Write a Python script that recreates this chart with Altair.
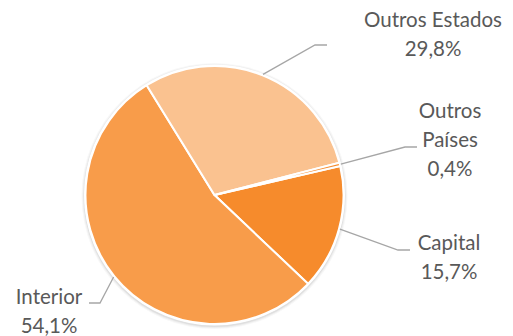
import math
import altair as alt
import pandas as pd

# ---- data ----
categories = ["Capital", "Interior", "Outros Estados", "Outros Países"]
values = [15.7, 54.1, 29.8, 0.4]
label_names = ["Capital", "Interior", "Outros Estados", "Outros\nPaíses"]
colors = ["#F68B2C", "#F89C4A", "#FAC290", "#F68B2C"]

# ---- layout ----
W, H = 497, 328
CX, CY, R = 206.5, 187, 129
START_DEG = 77
label_xy = {"Capital": (441, 242), "Interior": (41, 296),
            "Outros Estados": (425, 19), "Outros Países": (442, 110)}
leader_xy = {"Capital": [(390, 242), (402, 242)],
             "Interior": [(92, 295), (81, 295)],
             "Outros Estados": [(307, 37), (319, 37)],
             "Outros Países": [(397, 139), (409, 139)]}

START = math.radians(START_DEG)
df = pd.DataFrame({"cat": categories, "value": values, "idx": list(range(len(categories)))})

# labels
lab_rows = []
for c, n, v in zip(categories, label_names, values):
    lx, ly = label_xy[c]
    lab_rows.append({"cat": c, "label": n + "\n" + f"{v:.1f}".replace(".", ",") + "%", "lx": lx, "ly": ly})
lab_df = pd.DataFrame(lab_rows)

# leader lines from slice mid-angle
line_rows = []
cum = 0.0
total = sum(values)
for c, v in zip(categories, values):
    mid = START + 2 * math.pi * (cum + v / 2) / total
    cum += v
    ex = CX + (R + 1) * math.sin(mid)
    ey = CY - (R + 1) * math.cos(mid)
    pts = [(ex, ey)] + leader_xy[c]
    for i, (px, py) in enumerate(pts):
        line_rows.append({"cat": c, "step": i, "px": px, "py": py})
line_df = pd.DataFrame(line_rows)

one = pd.DataFrame({"k": [0]})

shadows = []
for dr, op in [(4, 0.03), (3, 0.04), (2, 0.06)]:
    shadows.append(
        alt.Chart(one).mark_arc(radius=R + dr, theta=0, theta2=2 * math.pi,
                                fill="#000000", opacity=op)
        .encode(x=alt.value(CX), y=alt.value(CY + 1))
    )
white_ring = alt.Chart(one).mark_arc(radius=R + 1.5, theta=0, theta2=2 * math.pi,
                                     fill="#ffffff").encode(x=alt.value(CX), y=alt.value(CY))

pie = alt.Chart(df).mark_arc(radius=R, stroke="white", strokeWidth=2).encode(
    theta=alt.Theta("value:Q", stack=True,
                    scale=alt.Scale(range=[START, START + 2 * math.pi])),
    color=alt.Color("cat:N", scale=alt.Scale(domain=categories, range=colors), legend=None),
    order=alt.Order("idx:Q"),
    x=alt.value(CX), y=alt.value(CY),
)

leaders = alt.Chart(line_df).mark_line(color="#A6A6A6", strokeWidth=1.3).encode(
    x=alt.X("px:Q", scale=None, axis=None),
    y=alt.Y("py:Q", scale=None, axis=None),
    detail="cat:N",
    order="step:Q",
)

labels = alt.Chart(lab_df).mark_text(
    align="center", baseline="alphabetic", lineBreak="\n", lineHeight=29,
    font="Lato", fontSize=20.5, color="#595959"
).encode(
    x=alt.X("lx:Q", scale=None, axis=None),
    y=alt.Y("ly:Q", scale=None, axis=None),
    text="label:N",
)

chart = alt.layer(*shadows, white_ring, pie, leaders, labels).properties(
    width=W, height=H, padding=0, autosize=alt.AutoSizeParams(type="none")
).configure_view(stroke=None)

chart.save("out.html", embed_options={"renderer": "svg", "actions": False})
